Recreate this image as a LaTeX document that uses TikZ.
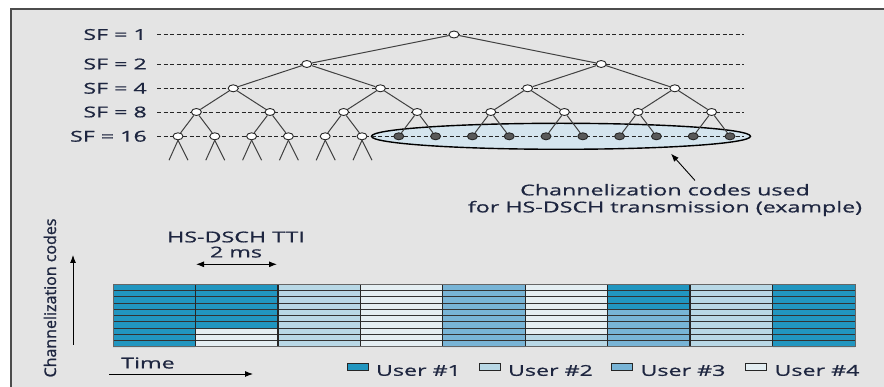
\documentclass[tikz,border=0pt]{standalone}
\usepackage{fontspec}
\setmainfont{Open Sans}[FakeStretch=1.55,FakeBold=0.8]
\newfontfamily\rotfont{Open Sans}[FakeBold=1.2]
\usetikzlibrary{arrows.meta,positioning,shapes.geometric}
\definecolor{ink}{RGB}{30,38,64}
\definecolor{bggray}{RGB}{228,228,228}
\definecolor{uone}{RGB}{33,150,192}
\definecolor{utwo}{RGB}{184,216,230}
\definecolor{uthree}{RGB}{120,180,214}
\definecolor{ufour}{RGB}{228,238,242}
\definecolor{ovalblue}{RGB}{213,229,238}

\begin{document}
\begin{tikzpicture}[x=1pt,y=-1pt,font=\fontsize{15}{17}\selectfont,text=ink,
nd/.style={ellipse,draw=black!85,fill=white,line width=0.9pt,minimum width=10pt,minimum height=7pt,inner sep=0pt},
nf/.style={nd,fill=black!65},
lk/.style={black!75,line width=1pt},
dl/.style={black!85,line width=0.7pt,dash pattern=on 4pt off 2.5pt},
ar/.style={-{Latex[length=8pt,width=6pt]},black,line width=0.9pt},
lg/.style={draw=black!85,line width=1pt,minimum width=21pt,minimum height=7pt,inner sep=0pt},
rowln/.style={black!80,line width=1pt},
colln/.style={black!85,line width=1.3pt}]
\useasboundingbox (0,0) rectangle (884,387);
% frame
\fill[white] (0,0) rectangle (884,387);
\fill[bggray] (11,9) rectangle (884,387);
\draw[black!70,line width=1.2pt] (884,9) -- (11,9) -- (11,387);
% code tree
\node[ellipse,draw=black,fill=ovalblue,line width=1.4pt,minimum width=379pt,minimum height=26pt,inner sep=0pt] (oval) at (561,136.3) {};
\foreach \lv/\yy/\sf in {0/34.5/1,1/64/2,2/88.3/4,3/112/8,4/136.3/16}{
  \node[anchor=east,inner sep=0pt] (sf\lv) at (147,\yy) {SF = \sf};
  \draw[dl] ([xshift=10pt]sf\lv.east) -- (744,\yy);
}
\foreach \lv/\yy in {0/34.5,1/64,2/88.3,3/112,4/136.3}{
  \pgfmathtruncatemacro\nmax{2^\lv-1}
  \pgfmathtruncatemacro\stp{2^(4-\lv)}
  \foreach \j in {0,...,\nmax}{
    \pgfmathsetmacro\xx{178+36.8*((\j+0.5)*\stp-0.5)}
    \pgfmathtruncatemacro\dark{(\lv==4)&&(\j>5)}
    \ifnum\dark=1 \node[nf] (n\lv-\j) at (\xx,\yy) {};
    \else \node[nd] (n\lv-\j) at (\xx,\yy) {}; \fi
  }
}
\foreach \lv in {1,...,4}{
  \pgfmathtruncatemacro\nmax{2^\lv-1}
  \pgfmathtruncatemacro\up{\lv-1}
  \foreach \j in {0,...,\nmax}{
    \pgfmathtruncatemacro\pj{\j/2}
    \draw[lk] (n\up-\pj) -- (n\lv-\j);
  }
}
\foreach \j in {0,...,5}{
  \draw[lk] (n4-\j.south) -- ++(-9,20);
  \draw[lk] (n4-\j.south) -- ++(10,20);
}
\node[align=center] (cap) at (665,200) {Channelization codes used\\for HS-DSCH transmission (example)};
\draw[ar] ([xshift=30pt]cap.north) -- ([xshift=110pt,yshift=-3.7pt]oval.south);
% code/time grid
\foreach \c/\ta/\tb/\k in {0/uone/uone/10,1/uone/ufour/7,2/utwo/utwo/10,3/ufour/ufour/10,4/uthree/uthree/10,5/ufour/utwo/8,6/uone/uthree/4,7/utwo/utwo/10,8/uone/uone/10}{
  \fill[\ta] (113+82.44*\c,284.5) rectangle ++(82.44,6.25*\k);
  \fill[\tb] (113+82.44*\c,284.5+6.25*\k) rectangle ++(82.44,62.5-6.25*\k);
}
\foreach \r in {1,...,9} \draw[rowln] (113,284.5+6.25*\r) -- (855,284.5+6.25*\r);
\foreach \c in {1,...,8} \draw[colln] (113+82.44*\c,284.5) -- (113+82.44*\c,347);
\draw[black!60,line width=1pt] (113,284.5) rectangle (855,347);
% axes and TTI
\node[rotate=90,font=\rotfont\fontsize{16}{18}\selectfont] (yax) at (50,298) {Channelization codes};
\coordinate (ya0) at (73,345);
\coordinate (ya1) at (73,255);
\draw[ar] (ya0) -- (ya1);
\node (tti) at (236,237) {HS-DSCH TTI};
\node[below=-3pt of tti] (ms) {2 ms};
\coordinate (tt0) at (196,264.3);
\coordinate (tt1) at (277,264.3);
\draw[{Latex[length=8pt,width=6pt]}-{Latex[length=8pt,width=6pt]},black,line width=0.9pt] (tt0) -- (tt1);
\node (time) at (148,363) {Time};
\coordinate (tx0) at (109,374);
\coordinate (tx1) at (253,374);
\draw[ar] (tx0) -- (tx1);
% legend
\node[lg,fill=uone] (k1) at (357.5,367.5) {};
\node[right=4pt of k1,yshift=-3pt] (t1) {User \#1};
\node[lg,fill=utwo] (k2) at (489.5,367.5) {};
\node[right=4pt of k2,yshift=-3pt] (t2) {User \#2};
\node[lg,fill=uthree] (k3) at (622,367.5) {};
\node[right=4pt of k3,yshift=-3pt] (t3) {User \#3};
\node[lg,fill=ufour] (k4) at (756,367.5) {};
\node[right=4pt of k4,yshift=-3pt] (t4) {User \#4};
\end{tikzpicture}
\end{document}
